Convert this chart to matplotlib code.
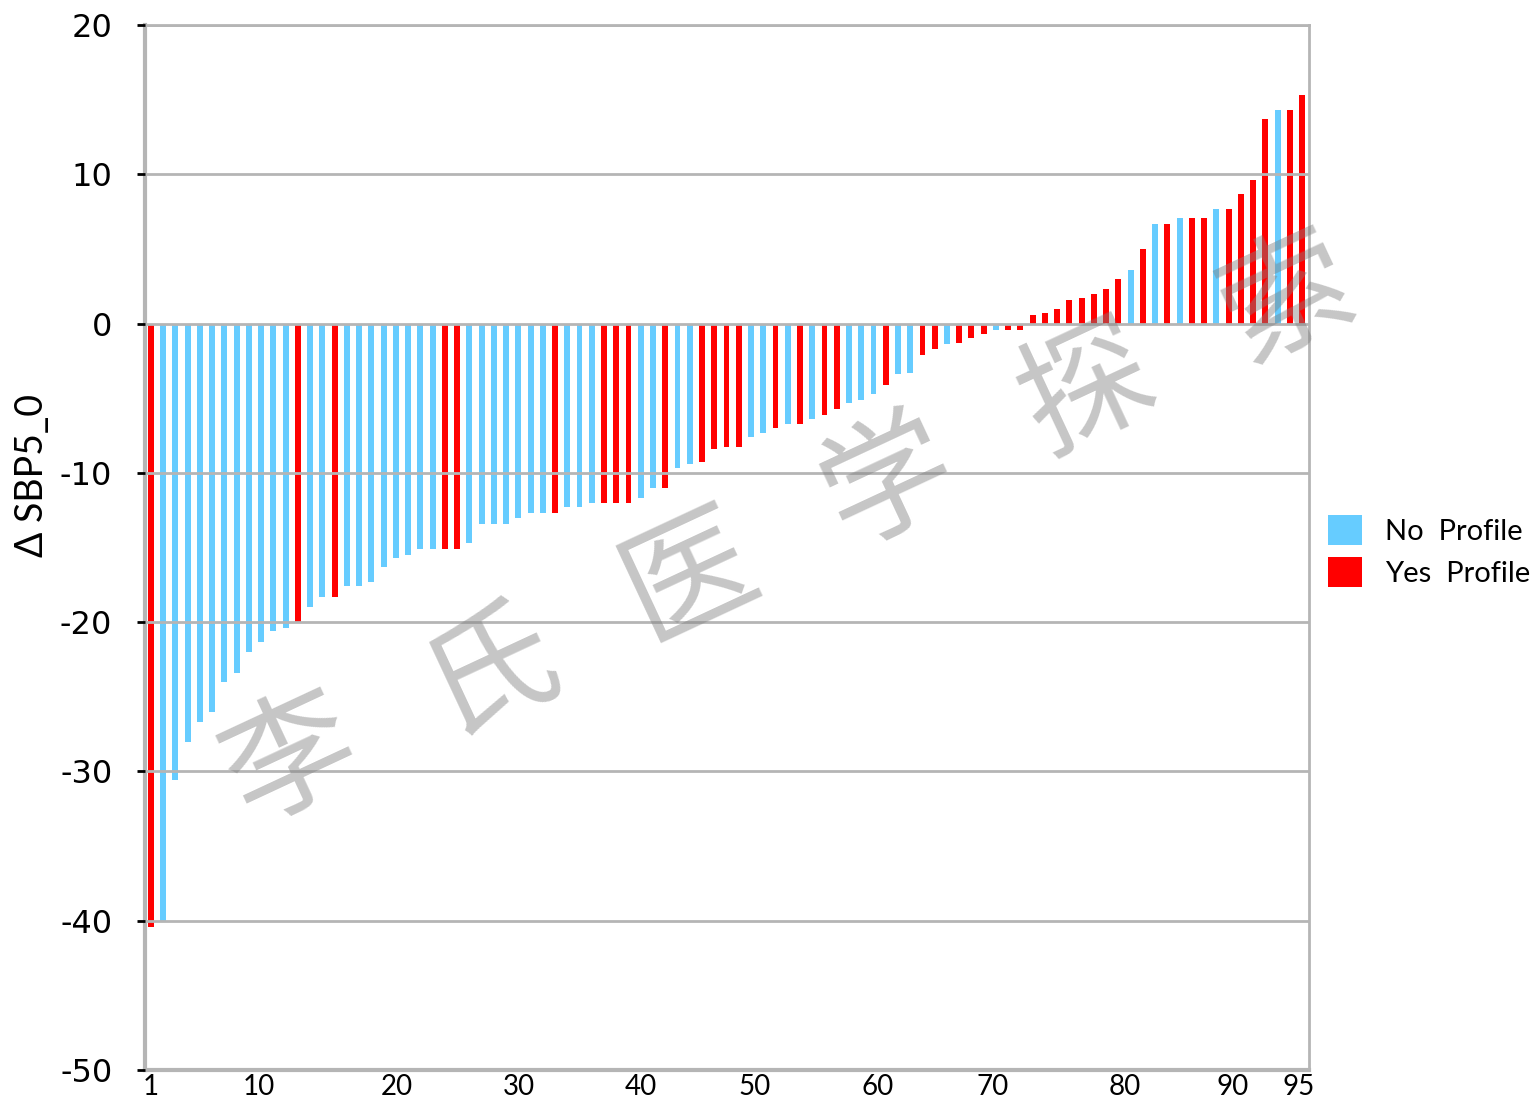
import numpy as np
import matplotlib
matplotlib.use("Agg")
import matplotlib.pyplot as plt
from matplotlib.patches import Patch

# -----------------------------
# 데이터
# -----------------------------
delta_sbp = [
    -40.4, -40.0, -30.6, -28.0, -26.7, -26.0, -24.0, -23.4, -22.0, -21.3,
    -20.6, -20.4, -20.0, -19.0, -18.3, -18.3, -17.6, -17.6, -17.3, -16.3,
    -15.7, -15.5, -15.1, -15.1, -15.1, -15.1, -14.7, -13.4, -13.4, -13.4,
    -13.0, -12.7, -12.7, -12.7, -12.3, -12.3, -12.0, -12.0, -12.0, -12.0,
    -11.7, -11.0, -11.0, -9.7, -9.4, -9.3, -8.4, -8.3, -8.3, -7.6,
    -7.3, -7.0, -6.7, -6.7, -6.4, -6.1, -5.7, -5.3, -5.1, -4.7,
    -4.1, -3.4, -3.3, -2.1, -1.7, -1.4, -1.3, -1.0, -0.7, -0.4,
    -0.4, -0.4, 0.6, 0.7, 1.0, 1.6, 1.7, 2.0, 2.3, 3.0,
    3.6, 5.0, 6.7, 6.7, 7.1, 7.1, 7.1, 7.7, 7.7, 8.7,
    9.6, 13.7, 14.3, 14.3, 15.3,
]
# Y = Profile 있음(빨강), N = 없음(파랑)
profile = (
    "YNNNNNNNNN" "NNYNNYNNNN" "NNNNYYNNNN" "NNNYNNNYYY"
    "NNYNNYYYYN" "NYNYNYYNNN" "YNNYYNYYYN" "YYYYYYYYYY"
    "NYNYNYYNYY" "YYNYY"
)
x_tick_labels = ["1", "10", "20", "30", "40", "50", "60", "70", "80", "90", "95"]
# 원본 차트의 라벨 위치(막대 번호 기준, 손으로 배치된 듯)
x_tick_pos = [1, 9.8, 21.05, 31.05, 41.0, 50.3, 60.3, 69.7, 80.5, 89.3, 94.7]
y_ticks = [-50, -40, -30, -20, -10, 0, 10, 20]

BLUE = "#66CCFF"
RED = "#FF0000"
GRID = "#b5b5b5"

# -----------------------------
# 차트
# -----------------------------
fig = plt.figure(figsize=(15.37, 11), dpi=100)
ax = fig.add_axes([0.0943, 0.0273, 0.7574, 0.95])

x = np.arange(1, len(delta_sbp) + 1)
colors = [RED if p == "Y" else BLUE for p in profile]
ax.bar(x, delta_sbp, width=0.48, color=colors, zorder=2)

ax.set_xlim(0.51, 95.57)
ax.set_ylim(-50, 20)

# 축 설정
ax.set_yticks(y_ticks)
ax.set_yticklabels([str(t) for t in y_ticks], fontsize=23, family="DejaVu Sans")
ax.tick_params(axis="y", length=6, width=2, color="black", pad=17.5)
ax.set_xticks(x_tick_pos)
ax.set_xticklabels(x_tick_labels, fontsize=20, family="Lato")
ax.tick_params(axis="x", length=0, pad=3)

ax.grid(axis="y", color=GRID, linewidth=2, zorder=3)
ax.set_axisbelow(False)
for side in ["left", "right", "top", "bottom"]:
    ax.spines[side].set_color(GRID)
ax.spines["left"].set_linewidth(3)
ax.spines["right"].set_linewidth(2)
ax.spines["top"].set_linewidth(2)
ax.spines["bottom"].set_linewidth(3)

ax.set_ylabel("Δ SBP5_0", fontsize=27, family="Lato")
ax.yaxis.set_label_coords(-0.0816, 0.569)

# 범례
handles = [Patch(facecolor=BLUE, edgecolor="none"), Patch(facecolor=RED, edgecolor="none")]
fig.legend(
    handles, ["No  Profile", "Yes  Profile"],
    loc="center left", bbox_to_anchor=(0.864, 0.499),
    frameon=False, prop={"family": "Lato", "size": 21},
    handlelength=1.16, handleheight=1.2, handletextpad=0.8,
    labelspacing=0.42, borderpad=0, borderaxespad=0,
)

# 워터마크
wm_chars = "李氏医学探索"
for i, ch in enumerate(wm_chars):
    fig.text(
        (292 + i * 199) / 1537, 1 - (762 - i * 92.5) / 1100, ch,
        fontsize=94, family="Noto Sans CJK SC",
        color="gray", alpha=0.45, rotation=25,
        ha="center", va="center", zorder=10,
    )

plt.savefig("out.png", dpi=100)
